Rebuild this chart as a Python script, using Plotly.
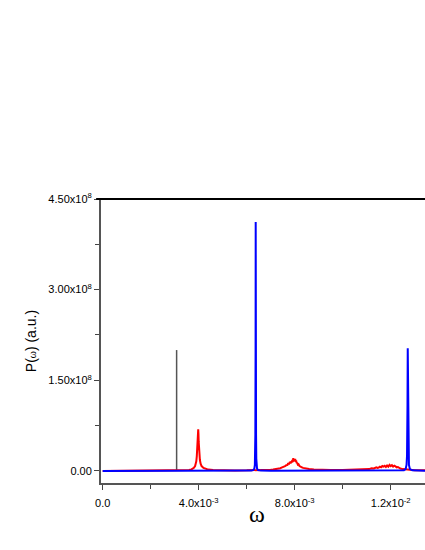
import plotly.graph_objects as go
import numpy as np

# Red spectrum (x in units of 1e-3, y in units of 1e6)
red_x = [0.0, 0.5, 1.0, 1.5, 2.0, 2.5, 3.0, 3.3, 3.5, 3.6, 3.7, 3.75, 3.8, 3.85, 3.88, 3.9, 3.92, 3.94, 3.96, 3.98,
         3.99, 4.0, 4.01, 4.03, 4.05, 4.08, 4.12, 4.2, 4.3, 4.4, 4.6, 4.8, 5.0, 5.5, 6.0, 6.5, 6.8, 7.0, 7.1, 7.2,
         7.3, 7.4, 7.45, 7.5, 7.55, 7.6, 7.65, 7.7, 7.73, 7.76, 7.8, 7.83, 7.86, 7.88, 7.9, 7.92, 7.94, 7.96, 7.98,
         8.0, 8.02, 8.04, 8.06, 8.08, 8.1, 8.13, 8.16, 8.2, 8.25, 8.3, 8.35, 8.4, 8.5, 8.6, 8.8, 9.0, 9.5, 10.0,
         10.5, 10.8, 11.0, 11.1, 11.2, 11.3, 11.4, 11.45, 11.5, 11.55, 11.6, 11.65, 11.7, 11.75, 11.8, 11.85, 11.9,
         11.95, 12.0, 12.05, 12.1, 12.15, 12.2, 12.25, 12.3, 12.35, 12.4, 12.5, 12.6, 12.8, 13.0, 13.45]
red_y = [0.0, 0.1, 0.1, 0.2, 0.2, 0.3, 0.4, 0.6, 1.0, 1.5, 2.5, 3.5, 5.0, 8.0, 11.0, 16.0, 24.0, 36.0, 52.0, 69.0,
         62.0, 48.0, 36.0, 25.0, 18.0, 12.0, 8.0, 5.0, 3.0, 2.2, 1.5, 1.2, 1.0, 0.8, 0.9, 1.0, 1.5, 2.0, 2.5, 3.0,
         4.0, 4.5, 5.5, 6.0, 7.5, 8.0, 9.5, 10.0, 13.0, 11.0, 15.0, 12.5, 16.0, 14.0, 18.0, 14.5, 21.0, 16.0, 19.0,
         17.0, 20.0, 15.0, 17.5, 13.0, 14.0, 10.5, 11.0, 8.0, 7.5, 6.0, 5.0, 4.5, 3.5, 3.0, 2.2, 1.8, 1.5, 1.6,
         2.0, 2.5, 3.5, 3.0, 4.5, 4.0, 6.0, 5.0, 5.5, 7.0, 6.0, 8.0, 7.0, 8.5, 6.5, 9.0, 7.0, 10.0, 8.0, 9.5,
         7.0, 8.5, 7.5, 6.0, 6.5, 5.0, 4.0, 3.0, 2.5, 1.5, 1.2, 1.0]

# Blue spectrum (x in units of 1e-3, y in units of 1e6)
blue_x = [0.0, 3.0, 6.0, 6.2, 6.28, 6.32, 6.34, 6.35, 6.36, 6.37, 6.375, 6.38, 6.39, 6.40, 6.41, 6.43, 6.47,
          6.6, 7.0, 10.0, 12.3, 12.55, 12.62, 12.66, 12.68, 12.69, 12.70, 12.71, 12.72, 12.73, 12.74, 12.76,
          12.8, 12.9, 13.45]
blue_y = [0.0, 0.0, 0.2, 0.5, 1.5, 4.0, 10.0, 20.0, 60.0, 200.0, 412.0, 200.0, 60.0, 20.0, 10.0, 4.0, 1.5,
          0.5, 0.2, 0.2, 0.3, 1.0, 3.0, 10.0, 25.0, 50.0, 110.0, 203.0, 110.0, 50.0, 25.0, 10.0,
          3.0, 1.0, 0.3]

# Gray reference line (x in 1e-3, y in 1e6)
gray_x = [3.08, 3.08]
gray_y = [0.0, 200.0]

y_tickvals = [0, 1.5e8, 3.0e8, 4.5e8]
y_ticktext = ["0.00", "1.50x10<sup>8</sup>", "3.00x10<sup>8</sup>", "4.50x10<sup>8</sup>"]
x_tickvals = [0.0, 4.0e-3, 8.0e-3, 1.2e-2]
x_ticktext = ["0.0", "4.0x10<sup>-3</sup>", "8.0x10<sup>-3</sup>", "1.2x10<sup>-2</sup>"]

sx = 1e-3
sy = 1e6

fig = go.Figure()
fig.add_trace(go.Scatter(x=np.array(gray_x) * sx, y=np.array(gray_y) * sy, mode="lines",
                         line=dict(color="#555555", width=1.5), showlegend=False))
fig.add_trace(go.Scatter(x=np.array(red_x) * sx, y=np.array(red_y) * sy, mode="lines",
                         line=dict(color="#ff0000", width=2), showlegend=False))
fig.add_trace(go.Scatter(x=np.array(blue_x) * sx, y=np.array(blue_y) * sy, mode="lines",
                         line=dict(color="#0000ff", width=2), showlegend=False))

font = "Liberation Sans, Arial, sans-serif"
fig.update_layout(
    width=425, height=550,
    margin=dict(l=101, r=0, t=199, b=67, autoexpand=False),
    paper_bgcolor="white", plot_bgcolor="white",
    font=dict(family=font, size=11, color="black"),
    xaxis=dict(range=[-7.1e-5, 0.013429], tickmode="array", tickvals=x_tickvals, ticktext=x_ticktext,
               ticks="outside", ticklen=5, tickwidth=1, tickcolor="#444", automargin=False,
               ticklabelstandoff=4,
               showline=True, linecolor="#555", linewidth=2, showgrid=False, zeroline=False,
               minor=dict(tickvals=[2e-3, 6e-3, 1.0e-2], ticks="outside", ticklen=4, tickcolor="#444")),
    yaxis=dict(range=[-2.0e7, 4.5e8], tickmode="array", tickvals=y_tickvals, ticktext=y_ticktext,
               ticks="outside", ticklen=5, tickwidth=1, tickcolor="#444", automargin=False,
               showline=True, linecolor="#555", linewidth=2, showgrid=False, zeroline=False,
               minor=dict(tickvals=[0.75e8, 2.25e8, 3.75e8], ticks="outside", ticklen=4, tickcolor="#444"),
               title=dict(text="P(<span style='font-size:9px'>ω</span>) (a.u.)", font=dict(size=14),
                          standoff=8)),
    shapes=[dict(type="line", xref="paper", yref="paper", x0=-0.015, x1=1, y0=1, y1=1,
                 line=dict(color="black", width=2))],
    annotations=[dict(text="ω", xref="paper", yref="paper", x=0.481, y=0, xanchor="center",
                      yanchor="middle", yshift=-31, showarrow=False,
                      font=dict(family="Liberation Serif, Times New Roman, serif", size=24))],
)

fig.write_html("out.html", config={"displayModeBar": False},
               post_script="document.body.style.margin='0';document.body.style.overflow='hidden';")
